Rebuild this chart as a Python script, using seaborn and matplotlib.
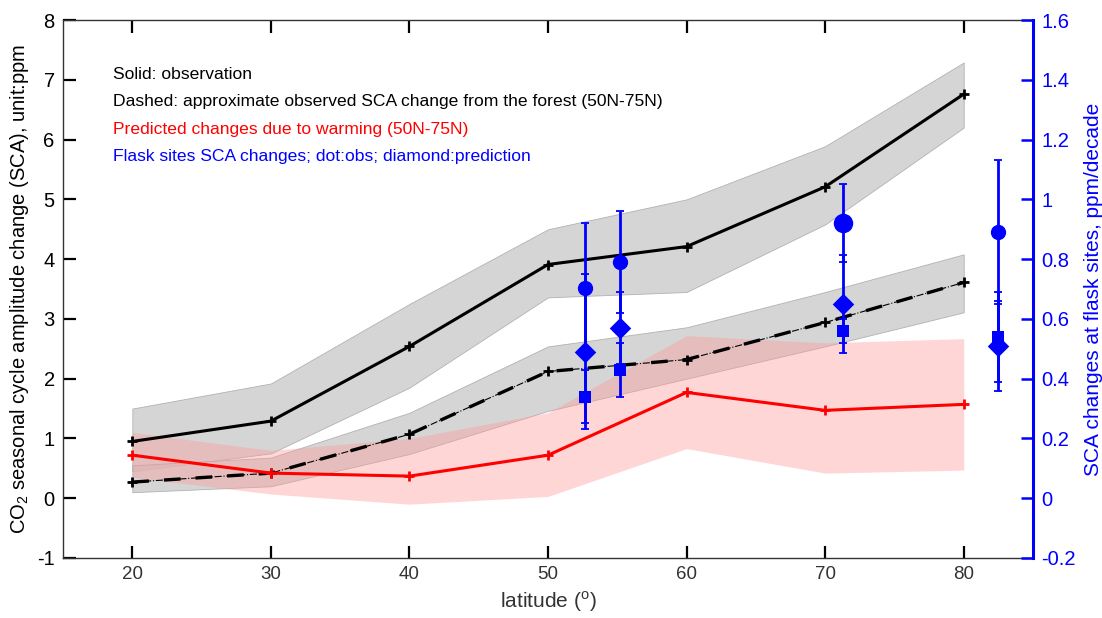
import numpy as np
import pandas as pd
import matplotlib
matplotlib.use("Agg")
import matplotlib.pyplot as plt
import seaborn as sns

# Zonal-band latitudes
lat = [20, 30, 40, 50, 60, 70, 80]

# Observed SCA change (solid) with its uncertainty envelope
obs = [0.95, 1.29, 2.54, 3.91, 4.21, 5.21, 6.76]
obs_lo = [0.45, 0.75, 1.85, 3.36, 3.45, 4.58, 6.20]
obs_hi = [1.50, 1.92, 3.25, 4.50, 5.00, 5.89, 7.29]

# Approximate observed change attributable to the forest (dashed)
forest = [0.27, 0.42, 1.07, 2.12, 2.32, 2.94, 3.61]
forest_lo = [0.10, 0.20, 0.74, 1.46, 2.00, 2.54, 3.11]
forest_hi = [0.55, 0.68, 1.43, 2.54, 2.86, 3.45, 4.08]

# Predicted change due to warming (red)
pred = [0.72, 0.42, 0.37, 0.72, 1.77, 1.47, 1.57]
pred_lo = [0.35, 0.07, -0.10, 0.03, 0.83, 0.42, 0.47]
pred_hi = [1.10, 0.80, 1.00, 1.43, 2.72, 2.60, 2.67]

# Flask sites (right axis, ppm/decade)
site_lat = [52.7, 55.2, 71.3, 82.45]
site_obs = [0.705, 0.79, 0.92, 0.89]
site_obs_err = [0.215, 0.17, 0.13, 0.24]
site_pred = [0.49, 0.57, 0.65, 0.51]
site_pred_err = [0.26, 0.12, 0.165, 0.15]
site_sq = [0.34, 0.43, 0.56, 0.54]
site_sq_err = [0.09, 0.09, 0.04, 0.15]
site_dot_size = [10, 10, 13, 10]

sns.set_theme(style="white")
plt.rcParams["font.family"] = ["Liberation Sans", "DejaVu Sans"]
plt.rcParams["mathtext.fontset"] = "custom"
plt.rcParams["mathtext.rm"] = "Liberation Sans"

fig = plt.figure(figsize=(11.02, 6.18), dpi=100)
ax = fig.add_axes([0.0572, 0.0971, 0.8802, 0.8705])

df = pd.DataFrame({"lat": lat, "obs": obs, "forest": forest, "pred": pred})

# Uncertainty envelopes
ax.fill_between(lat, obs_lo, obs_hi, color="#c8c8c8", alpha=0.75, lw=0.6,
                edgecolor="#a0a0a0", zorder=1)
ax.fill_between(lat, forest_lo, forest_hi, color="#c8c8c8", alpha=0.75, lw=0.6,
                edgecolor="#a0a0a0", zorder=1)
ax.fill_between(lat, pred_lo, pred_hi, color="#ff9a9a", alpha=0.4, lw=0,
                zorder=2)

mk = dict(marker="+", markersize=7, markeredgewidth=2.0)

# Observed (solid)
sns.lineplot(data=df, x="lat", y="obs", ax=ax, color="black", lw=2.2,
             markeredgecolor="black", zorder=4, **mk)
# Forest contribution (thin dash-dot under thick dashes)
sns.lineplot(data=df, x="lat", y="forest", ax=ax, color="black", lw=0.8,
             linestyle="-.", zorder=4)
sns.lineplot(data=df, x="lat", y="forest", ax=ax, color="black", lw=2.4,
             markeredgecolor="black", zorder=4, **mk)
ax.lines[-1].set_dashes([5, 4.5])
# Predicted (red)
sns.lineplot(data=df, x="lat", y="pred", ax=ax, color="#ff0000", lw=2.2,
             markeredgecolor="#ff0000", zorder=4, **mk)

ax.set_xlim(15, 85)
ax.set_ylim(-1, 8)
ax.set_xticks(lat)
ax.set_yticks(range(-1, 9))
ax.set_yticklabels([str(v) for v in range(-1, 9)])
ax.tick_params(axis="both", direction="in", length=9, width=1.6,
               colors="black", top=True, bottom=True,
               left=True, right=False, pad=6)
ax.tick_params(axis="x", labelcolor="#333333", labelsize=13.5)
ax.tick_params(axis="y", labelsize=14.5)
ax.set_xlabel("latitude ($^{\\mathrm{o}}$)", fontsize=15, color="#333333",
              labelpad=4)
ax.set_ylabel("CO$_2$ seasonal cycle amplitude change (SCA), unit:ppm",
              fontsize=14.5, color="black", labelpad=4)
for s in ax.spines.values():
    s.set_color("#333333")
    s.set_linewidth(1.0)

# Annotation block
notes = [
    ("Solid: observation", "black"),
    ("Dashed: approximate observed SCA change from the forest (50N-75N)", "black"),
    ("Predicted changes due to warming (50N-75N)", "#ff0000"),
    ("Flask sites SCA changes; dot:obs; diamond:prediction", "#0000ff"),
]
for i, (txt, col) in enumerate(notes):
    ax.text(18.6, 7.09 - 0.46 * i, txt, color=col, fontsize=12.6,
            va="center", ha="left")

# Flask sites on the right axis
ax2 = ax.twinx()
ax2.set_ylim(-0.2, 1.6)
blue = "#0000ff"
eb = dict(fmt="none", ecolor=blue, elinewidth=2.0, capsize=3, capthick=1.3,
          zorder=5)
ax2.errorbar(site_lat, site_obs, yerr=site_obs_err, **eb)
ax2.errorbar(site_lat, site_pred, yerr=site_pred_err, **eb)
ax2.errorbar(site_lat, site_sq, yerr=site_sq_err, **eb)
sites = pd.DataFrame({"lat": site_lat, "obs": site_obs, "pred": site_pred,
                      "sq": site_sq, "size": site_dot_size})
for _, r in sites.iterrows():
    ax2.plot(r["lat"], r["obs"], "o", color=blue, ms=r["size"], zorder=6)
sns.scatterplot(data=sites, x="lat", y="pred", ax=ax2, marker="D", s=120,
                color=blue, edgecolor=blue, linewidth=0, zorder=6)
sns.scatterplot(data=sites, x="lat", y="sq", ax=ax2, marker="s", s=70,
                color=blue, edgecolor=blue, linewidth=0, zorder=6)

ax2.set_yticks(np.round(np.arange(-0.2, 1.61, 0.2), 1))
ax2.set_yticklabels(["-0.2", "0", "0.2", "0.4", "0.6", "0.8", "1", "1.2",
                     "1.4", "1.6"])
ax2.tick_params(axis="y", direction="in", length=9, width=1.8, labelsize=14.5,
                colors=blue, right=True, left=False, pad=6)
ax2.set_ylabel("SCA changes at flask sites, ppm/decade", fontsize=15,
               color=blue, labelpad=6)
ax2.set_xlabel("")
ax2.spines["right"].set_color(blue)
ax2.spines["right"].set_linewidth(2.2)
for k in ("left", "top", "bottom"):
    ax2.spines[k].set_visible(False)

fig.savefig("out.png", dpi=100)
